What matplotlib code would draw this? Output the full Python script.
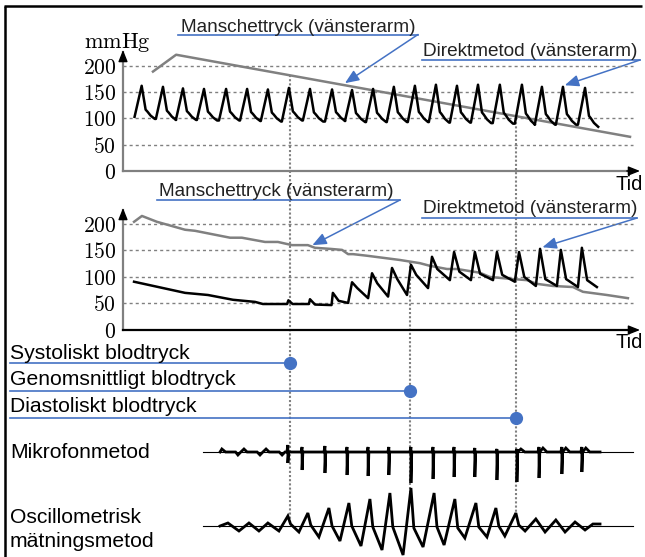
import numpy as np
import matplotlib
matplotlib.use("Agg")
import matplotlib.pyplot as plt

W, H = 645, 557
BLUE = "#4472c4"
GREY = "#808080"

plt.rcParams["font.family"] = ["Liberation Sans", "DejaVu Sans"]
plt.rcParams["mathtext.fontset"] = "cm"

# time axis in seconds, shared by every strip
t_end = 19.66
grid_end = 19.39
trace_span = (3.04, 19.39)
pressure_ticks = [0, 50, 100, 150, 200]

# upper panel: cuff pressure (mmHg), linear deflation
cuff_top_t = [1.14, 2.02, 19.28]
cuff_top_p = [189, 221, 65]

# upper panel: direct arterial pressure, one entry per heartbeat
top_beat_t = [0.71, 1.52, 2.28, 3.08, 3.92, 4.72, 5.51, 6.31, 7.11, 7.95, 8.71,
              9.51, 10.30, 11.10, 11.90, 12.70, 13.50, 14.33, 15.17, 15.93, 16.73, 17.57]
top_peak = [162, 160, 157, 156, 156, 156, 155, 158, 156, 155, 154,
            156, 160, 162, 164, 162, 164, 164, 164, 160, 160, 158]
top_trough = [99, 97, 97, 96, 96, 95, 94, 96, 94, 95, 93,
              93, 93, 93, 92, 92, 91, 90, 88, 88, 88, 84]
top_start = 103
# pulse contour: time after the peak and level between trough (0) and peak (1)
pulse_dt = [0.0, 0.15, 0.22, 0.34, 0.5]
pulse_level = [1.0, 0.28, 0.22, 0.1, 0.0]

# lower panel: cuff pressure with the arm pressure riding on it
cuff_bot_t = [0.42, 0.72, 1.29, 2.36, 2.74, 4.07, 4.52, 5.40, 5.89, 6.43, 7.03, 7.30,
              7.87, 8.33, 8.56, 8.75, 9.28, 10.53, 11.29, 11.67, 12.32, 12.70, 13.57,
              13.95, 14.83, 15.36, 15.74, 16.35, 17.11, 17.49, 18.40, 19.20]
cuff_bot_p = [204, 215, 204, 189, 187, 174, 174, 166, 166, 160, 160, 155,
              153, 151, 143, 143, 140, 132, 126, 121, 115, 115, 108,
              100, 96, 94, 87, 83, 81, 72, 66, 60]

# lower panel: direct pressure while the artery is occluded
occl_t = [0.42, 2.36, 3.23, 4.18, 5.02, 5.32, 6.24, 6.29, 6.45, 7.07, 7.11, 7.30,
          7.93, 7.98, 8.20, 8.56]
occl_p = [91, 70, 66, 57, 53, 49, 49, 56, 49, 49, 58, 48, 47, 70, 55, 51]
# lower panel: pulses once flow returns
bot_beat_t = [8.71, 9.47, 10.23, 10.95, 11.75, 12.59, 13.38, 14.22, 15.06, 15.86, 16.65, 17.45]
bot_peak = [90, 107, 117, 123, 138, 147, 147, 147, 147, 153, 151, 155]
bot_knee = [79, 88, 96, 104, 115, 110, 106, 104, 100, 96, 96, 94]
bot_trough_t = [9.32, 10.08, 10.80, 11.60, 12.43, 13.23, 14.07, 14.90, 15.70, 16.50, 17.30, 18.02]
bot_trough = [60, 63, 66, 79, 94, 94, 94, 91, 83, 83, 81, 81]

# systolic, mean and diastolic instants (s)
event_t = [6.35, 10.93, 14.94]
event_names = ["Systoliskt blodtryck", "Genomsnittligt blodtryck", "Diastoliskt blodtryck"]

# microphone (Korotkoff sounds)
mic_lead_t = [3.69, 3.76, 3.90, 4.28, 4.37, 4.48, 4.60, 4.72, 5.10, 5.21, 5.32,
              5.44, 5.56, 5.94, 6.05, 6.16]
mic_lead_v = [0, 3, 0, 0, -3, 0, 3, 0, 0, -3, 0, 3, 0, 0, -3, 0]
mic_spike_t = [6.27, 6.81, 7.68, 8.52, 9.32, 10.11, 10.95, 11.79, 12.59, 13.38,
               14.22, 14.98, 15.82, 16.69, 17.45]
mic_spike_depth = [11, 18, 21, 23, 24, 23, 31, 27, 25, 25, 28, 30, 26, 22, 20]
mic_spike_up = [7, 5, 6, 5, 5, 5, 5, 5, 5, 4, 3, 3, 5, 5, 5]
mic_hump = [0, 0, 0, 0, 0, 0, 0, 0, 0, 0, 0, 3, 4, 4, 4]
mic_end = 18.14

# oscillometric cuff oscillations
osc_t = [3.69, 3.99, 4.41, 4.79, 5.17, 5.51, 5.93, 6.27, 6.37, 6.69, 7.03, 7.14, 7.45,
         7.83, 7.95, 8.25, 8.59, 8.70, 9.05, 9.39, 9.50, 9.85, 10.15, 10.26, 10.65,
         10.95, 11.06, 11.41, 11.83, 11.94, 12.21, 12.62, 12.73, 13.00, 13.42, 13.53,
         13.84, 14.18, 14.29, 14.52, 14.94, 15.05, 15.29, 15.70, 16.05, 16.46, 16.81,
         17.19, 17.57, 17.87, 18.14]
osc_v = [0, 3, -5, 3, -5, 3, -5, 10, 2, -6, 13, 1, -11,
         18, 0, -15, 23, 0, -20, 27, -1, -24, 33, -1, -29,
         38, -2, -21, 33, -1, -19, 27, -2, -12, 23, -1,
         -11, 18, 0, -10, 13, 1, -5, 7, -6, 6, -6,
         4, -4, 2, 2]


def box(x0, y0, x1, y1):
    return [x0 / W, 1 - y1 / H, (x1 - x0) / W, (y1 - y0) / H]


fig = plt.figure(figsize=(W / 100, H / 100), dpi=100)

# pixel-space layer for labels, callouts and guide lines
ov = fig.add_axes([0, 0, 1, 1], zorder=0)
ov.set_xlim(0, W)
ov.set_ylim(H, 0)
ov.axis("off")

ax_top = fig.add_axes(box(123, 50, 640, 171), zorder=1)
ax_bot = fig.add_axes(box(123, 208, 640, 330), zorder=1)
ax_mic = fig.add_axes(box(123, 430, 640, 490), zorder=1)
ax_osc = fig.add_axes(box(123, 480, 640, 557), zorder=1)


def to_ov(ax, x, y):
    disp = ax.transData.transform((x, y))
    return ov.transData.inverted().transform(disp)


head = "-|>,head_length=0.5,head_width=0.2"

for ax, xcol in [(ax_top, GREY), (ax_bot, "black")]:
    ax.set_xlim(0, t_end)
    ax.set_ylim(0, 230)
    ax.patch.set_visible(False)
    for s in ax.spines.values():
        s.set_visible(False)
    ax.set_xticks([])
    ax.set_yticks(pressure_ticks)
    ax.set_yticklabels([f"${v}$" for v in pressure_ticks], fontsize=15.5)
    ax.tick_params(axis="y", length=0, pad=5)
    ax.hlines(pressure_ticks[1:], 0, grid_end, colors=GREY, lw=1.0,
              linestyles=(0, (2.2, 2.2)), zorder=1)
    # axes drawn as arrows
    ax.plot([0, 0], [0, 226], color=GREY, lw=1.6, clip_on=False, zorder=2)
    ax.plot([0, t_end - 0.2], [0, 0], color=xcol, lw=1.6, clip_on=False, zorder=2)
    ax.annotate("", xy=(0, 230), xytext=(0, 220),
                arrowprops=dict(arrowstyle=head, color="black", lw=1, shrinkA=0,
                                shrinkB=0, mutation_scale=14),
                annotation_clip=False)
    ax.annotate("", xy=(t_end, 0), xytext=(t_end - 0.5, 0),
                arrowprops=dict(arrowstyle=head, color="black", lw=1, shrinkA=0,
                                shrinkB=0, mutation_scale=14),
                annotation_clip=False)

# upper panel traces
ax_top.plot(cuff_top_t, cuff_top_p, color=GREY, lw=1.8, zorder=3)
tt, tv = [top_beat_t[0] - 0.27], [top_start]
for i, (p, pk, tr) in enumerate(zip(top_beat_t, top_peak, top_trough)):
    if i > 0:
        tt.append(p - 0.27)
        tv.append(top_trough[i - 1])
    for dt, lv in zip(pulse_dt, pulse_level):
        tt.append(p + dt)
        tv.append(tr + lv * (pk - tr))
ax_top.plot(tt, tv, color="black", lw=1.8, zorder=4, solid_joinstyle="round")

# lower panel traces
ax_bot.plot(cuff_bot_t, cuff_bot_p, color=GREY, lw=1.8, zorder=3)
bt, bv = list(occl_t), list(occl_p)
for p, pk, kn, ttr, tr in zip(bot_beat_t, bot_peak, bot_knee, bot_trough_t, bot_trough):
    bt += [p, p + 0.2, ttr]
    bv += [pk, kn, tr]
ax_bot.plot(bt, bv, color="black", lw=1.8, zorder=4, solid_joinstyle="round")

# microphone and oscillometric strips
for ax, lim in [(ax_mic, (-38, 22)), (ax_osc, (-31, 46))]:
    ax.set_xlim(0, t_end)
    ax.set_ylim(*lim)
    ax.axis("off")
    ax.plot(trace_span, [0, 0], color="black", lw=0.8, zorder=2)

mt, mv = list(mic_lead_t), list(mic_lead_v)
for s, d, u, hmp in zip(mic_spike_t, mic_spike_depth, mic_spike_up, mic_hump):
    mt += [s - 0.04, s, s, s + 0.03]
    mv += [0, u, -d, 0]
    if hmp:
        mt += [s + 0.15, s + 0.3]
        mv += [hmp, 0]
mt.append(mic_end)
mv.append(0)
ax_mic.plot(mt, mv, color="black", lw=2.0, zorder=3, solid_joinstyle="miter")
ax_osc.plot(osc_t, osc_v, color="black", lw=2.0, zorder=3, solid_joinstyle="miter")

# guide lines from the pressure curves down to the oscillations
starts = [to_ov(ax_top, event_t[0], np.interp(event_t[0], cuff_top_t, cuff_top_p)),
          to_ov(ax_bot, event_t[1], np.interp(event_t[1], cuff_bot_t, cuff_bot_p)),
          to_ov(ax_top, event_t[2], np.interp(event_t[2], tt, tv))]
ends = [to_ov(ax_osc, t, np.interp(t, osc_t, osc_v)) for t in event_t]
for (x0, y0), (x1, y1) in zip(starts, ends):
    ov.plot([x0, x0], [y0, y1], color=GREY, lw=1.5, linestyle=(0, (1, 1)), zorder=1)

# blood pressure labels with their markers
label_base = [359, 385, 412]
label_line = [363, 391, 418]
for name, xs, yb, yl in zip(event_names, starts, label_base, label_line):
    ov.text(10, yb, name, fontsize=15.2, va="baseline", ha="left")
    ov.plot([10, xs[0]], [yl, yl], color=BLUE, lw=1.2, zorder=2)
    ov.plot(xs[0], yl, "o", color=BLUE, ms=8.5, zorder=3)

ov.text(10, 458, "Mikrofonmetod", fontsize=15.2, va="baseline")
ov.text(10, 523, "Oscillometrisk", fontsize=15.2, va="baseline")
ov.text(10, 547, "mätningsmetod", fontsize=15.2, va="baseline")

# callouts
callouts = [
    ("Manschettryck (vänsterarm)", 181, 31.5, 178, 418, 34.5, ax_top, 8.44,
     np.interp(8.44, cuff_top_t, cuff_top_p) + 4),
    ("Direktmetod (vänsterarm)", 423, 56, 422, 640, 60, ax_top, 16.8, 163),
    ("Manschettryck (vänsterarm)", 159, 196, 157, 400, 200, ax_bot, 7.2,
     np.interp(7.2, cuff_bot_t, cuff_bot_p) + 3),
    ("Direktmetod (vänsterarm)", 423, 213, 422, 637, 218, ax_bot, 15.95, 156),
]
for text, tx, ty, ux0, ux1, uy, ax, at, ap in callouts:
    ov.text(tx, ty, text, fontsize=13.7, va="baseline", color="#222222")
    ov.plot([ux0, ux1], [uy, uy], color=BLUE, lw=1.2)
    tip = to_ov(ax, at, ap)
    ov.annotate("", xy=tip, xytext=(ux1, uy),
                arrowprops=dict(arrowstyle="-|>,head_length=0.6,head_width=0.25",
                                color=BLUE, lw=1.1, shrinkA=0, shrinkB=0,
                                mutation_scale=14))

ov.text(117, 43, r"$\mathrm{mmHg}$", fontsize=16, ha="center", va="center")
ov.text(616, 190, "Tid", fontsize=14.5, va="baseline")
ov.text(615, 348, "Tid", fontsize=14.5, va="baseline")

# frame
ov.plot([5, 5], [6, H], color="black", lw=1.8, solid_capstyle="butt")
ov.plot([4, 642], [6, 6], color="black", lw=1.8, solid_capstyle="butt")

fig.savefig("out.png", dpi=100)
